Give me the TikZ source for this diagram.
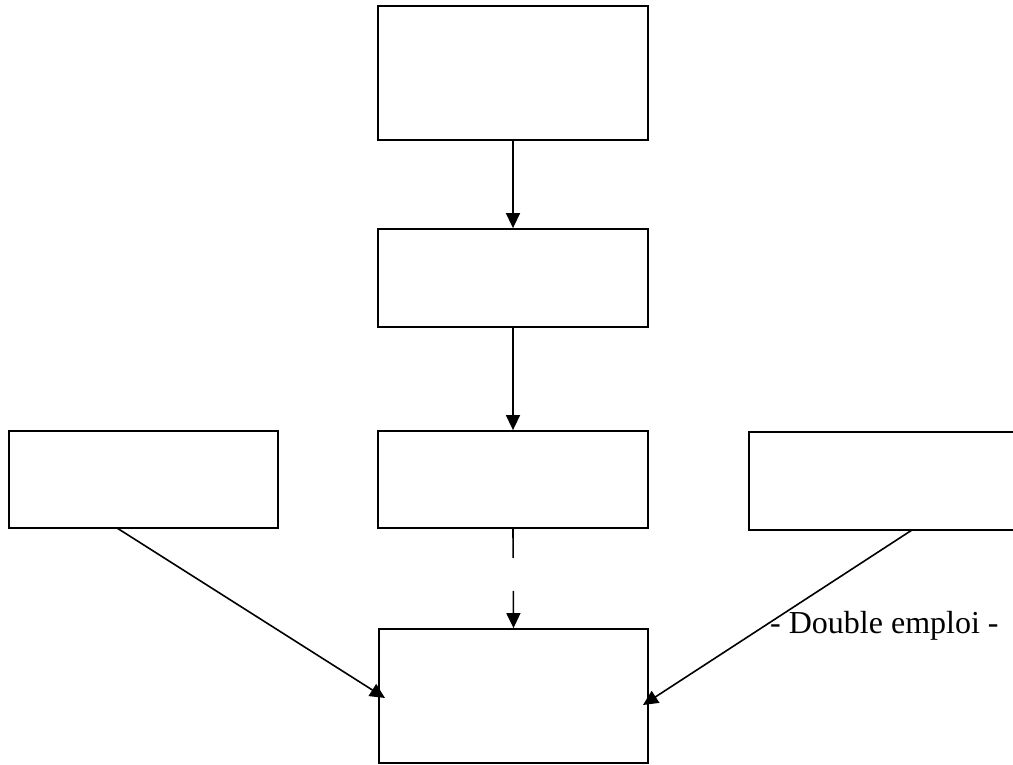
\documentclass[tikz,border=0pt]{standalone}
\usepackage{fontspec}
\setmainfont{Liberation Serif}
\usetikzlibrary{arrows.meta}
\begin{document}
\begin{tikzpicture}[x=1pt,y=-1pt,
  box/.style={draw,line width=1.8pt,inner sep=0pt},
  conn/.style={line width=1.6pt,-{Triangle[length=15pt,width=14pt]}}]
\useasboundingbox (0,0) rectangle (1013,765);
\node[box,minimum width=270pt,minimum height=134pt] (top) at (513,73) {};
\node[box,minimum width=270pt,minimum height=98pt] (second) at (513,278) {};
\node[box,minimum width=270pt,minimum height=97pt] (mid) at (513,479.5) {};
\node[box,minimum width=269pt,minimum height=97pt] (left) at (143.5,479.5) {};
\node[box,minimum width=280pt,minimum height=98pt] (right) at (889,481) {};
\node[box,minimum width=269pt,minimum height=134pt] (bottom) at (513.5,696) {};
\draw[conn] (top.south) -- (second.north);
\draw[conn] (second.south) -- (mid.north);
\draw[conn,dash pattern=on 29pt off 33pt on 60pt] (mid.south) -- (bottom.north);
\coordinate (lstart) at (117,528);
\coordinate (lend) at (385,698);
\coordinate (rstart) at (912,530);
\coordinate (rend) at (643,705);
\draw[conn] (lstart) -- (lend);
\draw[conn] (rstart) -- (rend);
\node[anchor=base west,inner sep=0pt,font=\fontsize{32}{38}\selectfont] (label) at (770,633) {- Double emploi -};
\end{tikzpicture}
\end{document}
